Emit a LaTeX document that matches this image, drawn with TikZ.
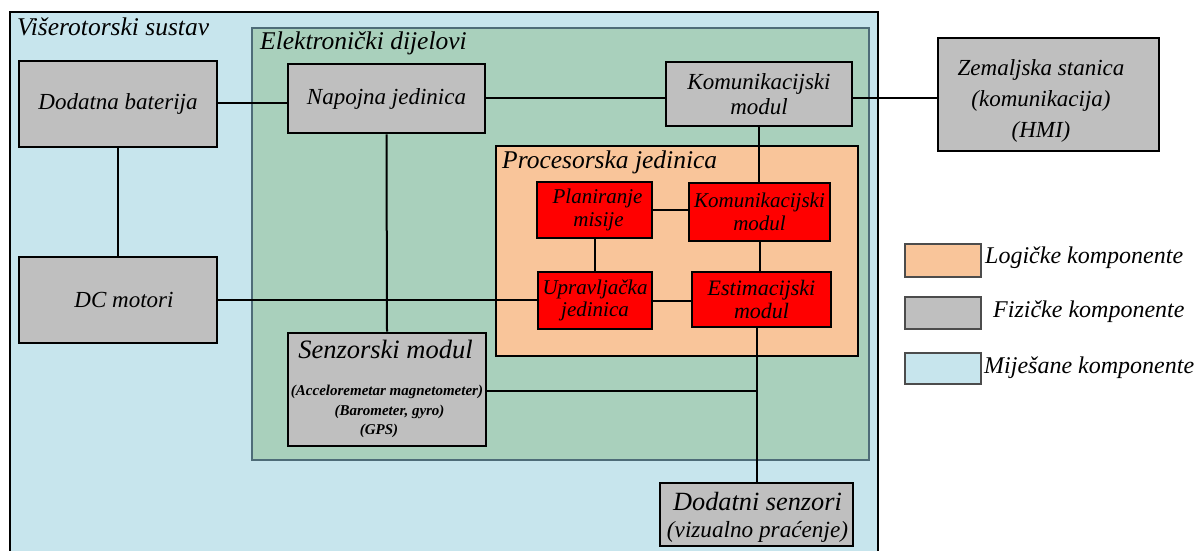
\documentclass[tikz,border=0pt]{standalone}
\usepackage{fontspec}
\setmainfont{Liberation Serif}
\definecolor{mixblue}{RGB}{199,229,237}
\definecolor{elgreen}{RGB}{169,208,188}
\definecolor{elborder}{RGB}{78,108,120}
\definecolor{logorange}{RGB}{249,197,154}
\definecolor{physgray}{RGB}{191,191,191}
\definecolor{procred}{RGB}{255,0,0}
\newcommand\myfs[2]{\fontsize{#1}{#2}\selectfont\itshape}
\begin{document}
\begin{tikzpicture}[x=1pt,y=-1pt,
  box/.style={draw=black,line width=2.6pt,fill=physgray,inner sep=0pt,align=center,font=\myfs{23}{25}},
  redbox/.style={draw=black,line width=2.6pt,fill=procred,inner sep=0pt,align=center,font=\myfs{21}{22.5}},
  wire/.style={draw=black,line width=2pt},
  title/.style={anchor=base west,inner sep=0pt,font=\myfs{25.5}{28}},
  legbox/.style={draw=black!70,line width=1.2pt,minimum width=76pt,inner sep=0pt},
  legtext/.style={anchor=base west,inner sep=0pt,font=\myfs{24}{26}},
  small/.style={anchor=base,inner sep=0pt,font=\fontsize{15}{16}\selectfont\bfseries\itshape},
]
\useasboundingbox (0,0) rectangle (1201,551);
\clip (0,0) rectangle (1201,551);
% containers
\node[draw=black,line width=2pt,fill=mixblue,minimum width=868pt,minimum height=580pt,inner sep=0pt] (outer) at (444,302) {};
\node[title] (outerT) at (17,36) {Višerotorski sustav};
\node[draw=elborder,line width=2pt,fill=elgreen,minimum width=617pt,minimum height=432pt,inner sep=0pt] (green) at (560.5,244) {};
\node[title] (greenT) at (260,50) {Elektronički dijelovi};
\node[draw=black,line width=2.6pt,fill=logorange,minimum width=362pt,minimum height=210pt,inner sep=0pt] (proc) at (677,251) {};
\node[title] (procT) at (502,168) {Procesorska jedinica};
% physical boxes
\node[box,minimum width=198pt,minimum height=86pt] (bat) at (118,104) {Dodatna baterija};
\node[box,minimum width=197pt,minimum height=69pt] (nap) at (386.5,98.5) {Napojna jedinica};
\node[box,minimum width=186pt,minimum height=64pt] (kom) at (759,94) {Komunikacijski\\modul};
\node[box,minimum width=221pt,minimum height=113pt] (zem) at (1048.5,94.5) {};
\node[anchor=center,inner sep=0pt,align=center,font=\myfs{23}{31}] (zemT) at (1041,101) {Zemaljska stanica\\(komunikacija)\\(HMI)};
\node[box,minimum width=198pt,minimum height=86pt] (dc) at (118,300) {\hspace*{12pt}DC motori};
\node[box,minimum width=198pt,minimum height=113pt] (sen) at (387,389.5) {};
\node[anchor=base,inner sep=0pt,font=\myfs{26.5}{28}] (senT) at (385.5,358) {Senzorski modul};
\node[small] (senA) at (387,395) {(Acceloremetar magnetometer)};
\node[small] (senB) at (389.5,415) {(Barometer, gyro)};
\node[small] (senC) at (379,434) {(GPS)};
\node[box,minimum width=193pt,minimum height=63pt] (dod) at (756.5,514.5) {};
\node[anchor=base,inner sep=0pt,font=\myfs{26.3}{28}] (dodA) at (757.5,510) {Dodatni senzori};
\node[anchor=base,inner sep=0pt,font=\myfs{23.2}{25}] (dodB) at (757.5,537) {(vizualno praćenje)};
% logical boxes
\node[redbox,minimum width=115pt,minimum height=56pt] (plan) at (594.5,210) {\hspace*{6pt}Planiranje\\\hspace*{8pt}misije};
\node[redbox,minimum width=141pt,minimum height=58pt] (komr) at (759.5,212) {Komunikacijski\\modul};
\node[redbox,minimum width=114pt,minimum height=57pt] (upr) at (595,300.5) {Upravljačka\\jedinica};
\node[redbox,minimum width=139pt,minimum height=55pt,font=\myfs{22}{23}] (est) at (761.5,299.5) {Estimacijski\\modul};
% wires
\coordinate (by) at (0,103);
\draw[wire] (bat.east |- by) -- (nap.west |- by);
\coordinate (ky) at (0,98);
\draw[wire] (nap.east |- ky) -- (kom.west |- ky);
\draw[wire] (kom.east |- ky) -- (zem.west |- ky);
\draw[wire] (bat.south) -- (dc.north);
\draw[wire] (dc.east) -- (dc.east -| upr.west);
\draw[wire] (nap.south) -- (sen.north);
\draw[wire] (kom.south) -- (kom.south |- komr.north);
\draw[wire] (plan.east) -- (plan.east -| komr.west);
\draw[wire] (plan.south) -- (plan.south |- upr.north);
\draw[wire] (komr.south) -- (komr.south |- est.north);
\draw[wire] (upr.east) -- (upr.east -| est.west);
\draw[wire] (dod.north |- est.south) -- (dod.north);
\coordinate (sy) at (0,391);
\draw[wire] (sen.east |- sy) -- (dod.north |- sy);
% legend
\node[legbox,fill=logorange,minimum height=33pt] (lg1) at (943,260.5) {};
\node[legtext] (lg1T) at (985,263) {Logičke komponente};
\node[legbox,fill=physgray,minimum height=32pt] (lg2) at (943,313) {};
\node[legtext] (lg2T) at (993,317) {Fizičke komponente};
\node[legbox,fill=mixblue,minimum height=31pt] (lg3) at (943,368.5) {};
\node[legtext] (lg3T) at (984,373) {Miješane komponente};
\end{tikzpicture}
\end{document}
